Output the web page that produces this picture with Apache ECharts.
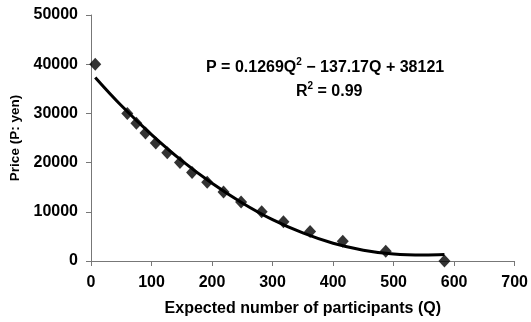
<!DOCTYPE html>
<html>
<head>
<meta charset="utf-8">
<script src="https://cdn.jsdelivr.net/npm/echarts@6/dist/echarts.min.js"></script>
<style>
  html, body { margin: 0; padding: 0; background: #fff; }
  #chart { width: 531px; height: 322px; }
</style>
</head>
<body>
<div id="chart"></div>
<script>
// observed points (Q: expected participants, P: price in yen)
const qValues = [7, 60, 75, 90, 107, 126, 147, 167, 192, 219, 248, 282, 318, 362, 416, 487, 584];
const priceValues = [40000, 30000, 28000, 26000, 24000, 22000, 20000, 18000, 16000, 14000, 12000, 10000, 8000, 6000, 4000, 2000, 0];

// trend line
const trendQ = [7, 50, 100, 150, 200, 250, 300, 350, 400, 450, 500, 550, 584];
const trendP = [37300, 31600, 25700, 20400, 15800, 11800, 8400, 5700, 3600, 2200, 1400, 1200, 1300];

const xTicks = { min: 0, max: 700, step: 100 };
const yTicks = { min: 0, max: 50000, step: 10000 };

const chart = echarts.init(document.getElementById('chart'), null, { renderer: 'canvas' });

const font = '"Liberation Sans", Arial, sans-serif';
const axisColor = '#777';

const richEq = {
  a: { fontFamily: font, fontWeight: 'bold', fontSize: 16, fill: '#000', verticalAlign: 'bottom', lineHeight: 19 },
  s: { fontFamily: font, fontWeight: 'bold', fontSize: 10, fill: '#000', verticalAlign: 'top', lineHeight: 19, padding: [0, 0, 7, 0] }
};

const option = {
  animation: false,
  backgroundColor: '#fff',
  grid: { left: 87, right: 10, top: 15, bottom: 60, containLabel: false },
  xAxis: {
    type: 'value',
    min: xTicks.min,
    max: xTicks.max,
    interval: xTicks.step,
    name: 'Expected number of participants (Q)',
    nameLocation: 'middle',
    nameGap: 40,
    nameTextStyle: { fontFamily: font, fontWeight: 'bold', fontSize: 16, color: '#000' },
    axisLine: { show: true, lineStyle: { color: axisColor, width: 1 } },
    axisTick: { show: true, inside: false, length: 5, lineStyle: { color: axisColor } },
    axisLabel: { fontFamily: font, fontWeight: 'bold', fontSize: 16, color: '#000', margin: 14 },
    splitLine: { show: false }
  },
  yAxis: {
    type: 'value',
    min: yTicks.min,
    max: yTicks.max,
    interval: yTicks.step,
    name: 'Price (P: yen)',
    nameLocation: 'middle',
    nameGap: 69,
    nameRotate: 90,
    nameTextStyle: { fontFamily: font, fontWeight: 'bold', fontSize: 13.5, color: '#000' },
    axisLine: { show: true, lineStyle: { color: axisColor, width: 1 } },
    axisTick: { show: true, inside: false, length: 5, lineStyle: { color: axisColor } },
    axisLabel: { fontFamily: font, fontWeight: 'bold', fontSize: 16, color: '#000', margin: 13, formatter: v => String(v) },
    splitLine: { show: false }
  },
  graphic: [
    {
      type: 'text',
      left: 206,
      top: 57,
      style: { text: '{a|P = 0.1269Q}{s|2}{a| − 137.17Q + 38121}', rich: richEq }
    },
    {
      type: 'text',
      left: 296,
      top: 81,
      style: { text: '{a|R}{s|2}{a| = 0.99}', rich: richEq }
    }
  ],
  series: [
    {
      name: 'Observed',
      type: 'scatter',
      symbol: 'diamond',
      symbolSize: [12, 13],
      itemStyle: { color: '#000' },
      data: qValues.map((q, i) => [q, priceValues[i]]),
      z: 2
    },
    {
      name: 'Trend',
      type: 'line',
      smooth: 0.4,
      showSymbol: false,
      lineStyle: { color: '#000', width: 3 },
      data: trendQ.map((q, i) => [q, trendP[i]]),
      z: 3
    }
  ]
};

chart.setOption(option);
</script>
</body>
</html>
